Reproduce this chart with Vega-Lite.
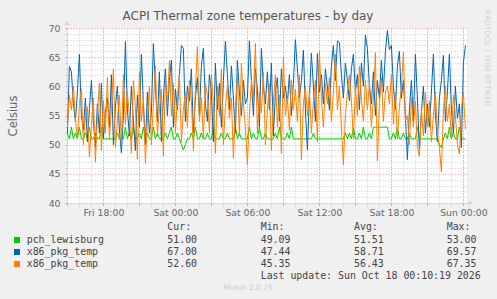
{
  "$schema": "https://vega.github.io/schema/vega-lite/v6.json",
  "width": 400,
  "height": 175,
  "autosize": {"type": "none"},
  "padding": {"left": 67, "top": 28, "right": 30, "bottom": 96},
  "background": "#f0f0f0",
  "config": {"font": "DejaVu Sans", "view": {"fill": "#ffffff", "stroke": null}},
  "title": {
    "text": "ACPI Thermal zone temperatures - by day",
    "anchor": "middle", "frame": "group", "dx": -19, "offset": -13,
    "fontSize": 12, "fontWeight": "normal", "color": "#555555"
  },
  "datasets": {
    "temps": [
      {"t":"2026-10-16T15:00","g":52,"b":52,"o":53},
      {"t":"2026-10-16T15:10","g":51,"b":63.4,"o":58.5},
      {"t":"2026-10-16T15:20","g":53,"b":62.5,"o":56},
      {"t":"2026-10-16T15:30","g":51,"b":57,"o":60},
      {"t":"2026-10-16T15:40","g":52,"b":54,"o":54.5},
      {"t":"2026-10-16T15:50","g":51,"b":59,"o":51},
      {"t":"2026-10-16T16:00","g":53,"b":65.5,"o":57},
      {"t":"2026-10-16T16:10","g":51,"b":55,"o":59.5},
      {"t":"2026-10-16T16:20","g":51,"b":52.5,"o":50},
      {"t":"2026-10-16T16:30","g":52,"b":58,"o":55},
      {"t":"2026-10-16T16:40","g":51,"b":50.5,"o":56.5},
      {"t":"2026-10-16T16:50","g":53,"b":56,"o":47.9},
      {"t":"2026-10-16T17:00","g":51,"b":61,"o":53},
      {"t":"2026-10-16T17:10","g":51,"b":54,"o":58},
      {"t":"2026-10-16T17:20","g":52,"b":49.5,"o":47},
      {"t":"2026-10-16T17:30","g":51,"b":57,"o":55},
      {"t":"2026-10-16T17:40","g":51,"b":52,"o":60.5},
      {"t":"2026-10-16T17:50","g":53,"b":60.5,"o":49},
      {"t":"2026-10-16T18:00","g":51,"b":51,"o":57.5},
      {"t":"2026-10-16T18:10","g":51,"b":55.5,"o":52},
      {"t":"2026-10-16T18:20","g":51,"b":58,"o":61.5},
      {"t":"2026-10-16T18:30","g":51,"b":53,"o":51},
      {"t":"2026-10-16T18:40","g":51,"b":62,"o":56},
      {"t":"2026-10-16T18:50","g":51,"b":50,"o":63},
      {"t":"2026-10-16T19:00","g":51,"b":56.5,"o":49.5},
      {"t":"2026-10-16T19:10","g":52,"b":60,"o":54},
      {"t":"2026-10-16T19:20","g":51,"b":52.5,"o":58.5},
      {"t":"2026-10-16T19:30","g":51,"b":48.6,"o":50},
      {"t":"2026-10-16T19:40","g":51,"b":55,"o":62},
      {"t":"2026-10-16T19:50","g":53,"b":67.7,"o":53.5},
      {"t":"2026-10-16T20:00","g":51,"b":56,"o":59},
      {"t":"2026-10-16T20:10","g":52,"b":51.5,"o":55},
      {"t":"2026-10-16T20:20","g":51,"b":60,"o":48.5},
      {"t":"2026-10-16T20:30","g":53,"b":54,"o":61},
      {"t":"2026-10-16T20:40","g":51,"b":49,"o":56.5},
      {"t":"2026-10-16T20:50","g":51,"b":58.5,"o":47.5},
      {"t":"2026-10-16T21:00","g":52,"b":53,"o":62.5},
      {"t":"2026-10-16T21:10","g":51,"b":65.5,"o":54},
      {"t":"2026-10-16T21:20","g":53,"b":57,"o":58},
      {"t":"2026-10-16T21:30","g":51,"b":50,"o":46.8},
      {"t":"2026-10-16T21:40","g":52,"b":59,"o":54},
      {"t":"2026-10-16T21:50","g":51,"b":52,"o":60},
      {"t":"2026-10-16T22:00","g":51,"b":55.5,"o":50},
      {"t":"2026-10-16T22:10","g":53,"b":67.3,"o":57},
      {"t":"2026-10-16T22:20","g":51,"b":60,"o":63.5},
      {"t":"2026-10-16T22:30","g":52,"b":54,"o":51.5},
      {"t":"2026-10-16T22:40","g":51,"b":62.5,"o":56},
      {"t":"2026-10-16T22:50","g":51,"b":50.5,"o":59.5},
      {"t":"2026-10-16T23:00","g":51,"b":58,"o":48},
      {"t":"2026-10-16T23:10","g":52,"b":63,"o":61},
      {"t":"2026-10-16T23:20","g":51,"b":55,"o":57},
      {"t":"2026-10-16T23:30","g":52,"b":61,"o":64.4},
      {"t":"2026-10-16T23:40","g":53,"b":64.5,"o":55},
      {"t":"2026-10-16T23:50","g":51,"b":53,"o":60.5},
      {"t":"2026-10-17T00:00","g":51,"b":59.5,"o":52},
      {"t":"2026-10-17T00:10","g":52,"b":56,"o":58},
      {"t":"2026-10-17T00:20","g":51,"b":62,"o":62},
      {"t":"2026-10-17T00:30","g":50,"b":67,"o":50.5},
      {"t":"2026-10-17T00:40","g":49.09,"b":66.5,"o":56},
      {"t":"2026-10-17T00:50","g":50,"b":54,"o":59},
      {"t":"2026-10-17T01:00","g":51,"b":60,"o":53},
      {"t":"2026-10-17T01:10","g":51,"b":57.5,"o":61},
      {"t":"2026-10-17T01:20","g":52,"b":63,"o":57.5},
      {"t":"2026-10-17T01:30","g":51,"b":52,"o":49},
      {"t":"2026-10-17T01:40","g":53,"b":58,"o":59.5},
      {"t":"2026-10-17T01:50","g":51,"b":61.5,"o":66.8},
      {"t":"2026-10-17T02:00","g":51,"b":55,"o":54},
      {"t":"2026-10-17T02:10","g":52,"b":63.5,"o":58},
      {"t":"2026-10-17T02:20","g":51,"b":66.5,"o":51},
      {"t":"2026-10-17T02:30","g":51,"b":57,"o":60.5},
      {"t":"2026-10-17T02:40","g":52,"b":54,"o":58.5},
      {"t":"2026-10-17T02:50","g":51,"b":62,"o":52},
      {"t":"2026-10-17T03:00","g":51,"b":59,"o":62},
      {"t":"2026-10-17T03:10","g":53,"b":50.5,"o":57},
      {"t":"2026-10-17T03:20","g":51,"b":64,"o":48.5},
      {"t":"2026-10-17T03:30","g":51,"b":56,"o":60},
      {"t":"2026-10-17T03:40","g":51,"b":60.5,"o":55},
      {"t":"2026-10-17T03:50","g":52,"b":53,"o":63},
      {"t":"2026-10-17T04:00","g":51,"b":61,"o":50},
      {"t":"2026-10-17T04:10","g":51,"b":67.7,"o":56.5},
      {"t":"2026-10-17T04:20","g":52,"b":62,"o":60},
      {"t":"2026-10-17T04:30","g":51,"b":56,"o":54.5},
      {"t":"2026-10-17T04:40","g":51,"b":63.5,"o":58},
      {"t":"2026-10-17T04:50","g":51,"b":58,"o":47.7},
      {"t":"2026-10-17T05:00","g":53,"b":52,"o":56},
      {"t":"2026-10-17T05:10","g":51,"b":64.5,"o":61.5},
      {"t":"2026-10-17T05:20","g":52,"b":59,"o":51.5},
      {"t":"2026-10-17T05:30","g":51,"b":55,"o":64},
      {"t":"2026-10-17T05:40","g":51,"b":61,"o":57},
      {"t":"2026-10-17T05:50","g":51,"b":57,"o":53},
      {"t":"2026-10-17T06:00","g":51,"b":58,"o":46.5},
      {"t":"2026-10-17T06:10","g":53,"b":67.8,"o":55},
      {"t":"2026-10-17T06:20","g":51,"b":61,"o":61},
      {"t":"2026-10-17T06:30","g":52,"b":55,"o":58},
      {"t":"2026-10-17T06:40","g":51,"b":63,"o":67.35},
      {"t":"2026-10-17T06:50","g":51,"b":59.5,"o":52},
      {"t":"2026-10-17T07:00","g":53,"b":53,"o":59},
      {"t":"2026-10-17T07:10","g":51,"b":66.5,"o":55.5},
      {"t":"2026-10-17T07:20","g":51,"b":60,"o":62.5},
      {"t":"2026-10-17T07:30","g":52,"b":57,"o":50},
      {"t":"2026-10-17T07:40","g":51,"b":62.5,"o":56},
      {"t":"2026-10-17T07:50","g":51,"b":56,"o":60.5},
      {"t":"2026-10-17T08:00","g":51,"b":64,"o":49},
      {"t":"2026-10-17T08:10","g":51,"b":51.5,"o":57.5},
      {"t":"2026-10-17T08:20","g":52,"b":59,"o":62},
      {"t":"2026-10-17T08:30","g":51,"b":61.5,"o":53},
      {"t":"2026-10-17T08:40","g":53,"b":54,"o":58.5},
      {"t":"2026-10-17T08:50","g":51,"b":63,"o":48.5},
      {"t":"2026-10-17T09:00","g":51,"b":58,"o":65},
      {"t":"2026-10-17T09:10","g":51,"b":60,"o":55},
      {"t":"2026-10-17T09:20","g":52,"b":57,"o":58},
      {"t":"2026-10-17T09:30","g":51,"b":62,"o":52.5},
      {"t":"2026-10-17T09:40","g":53,"b":55,"o":61},
      {"t":"2026-10-17T09:50","g":51,"b":60.5,"o":56},
      {"t":"2026-10-17T10:00","g":51,"b":68,"o":59.5},
      {"t":"2026-10-17T10:10","g":51,"b":63,"o":54},
      {"t":"2026-10-17T10:20","g":51,"b":58,"o":62},
      {"t":"2026-10-17T10:30","g":51,"b":61,"o":47.4},
      {"t":"2026-10-17T10:40","g":51,"b":66.2,"o":57},
      {"t":"2026-10-17T10:50","g":51,"b":56,"o":60},
      {"t":"2026-10-17T11:00","g":51,"b":49.1,"o":55},
      {"t":"2026-10-17T11:10","g":51,"b":58,"o":59},
      {"t":"2026-10-17T11:20","g":51,"b":65.7,"o":52},
      {"t":"2026-10-17T11:30","g":52,"b":60,"o":57.5},
      {"t":"2026-10-17T11:40","g":51,"b":54,"o":61},
      {"t":"2026-10-17T11:50","g":51,"b":65.6,"o":50.5},
      {"t":"2026-10-17T12:00","g":51,"b":59,"o":66},
      {"t":"2026-10-17T12:10","g":51,"b":62,"o":58},
      {"t":"2026-10-17T12:20","g":51,"b":57,"o":53},
      {"t":"2026-10-17T12:30","g":51,"b":63,"o":60.5},
      {"t":"2026-10-17T12:40","g":51,"b":60,"o":57},
      {"t":"2026-10-17T12:50","g":51,"b":56,"o":61.5},
      {"t":"2026-10-17T13:00","g":51,"b":63.5,"o":54},
      {"t":"2026-10-17T13:10","g":51,"b":67,"o":59},
      {"t":"2026-10-17T13:20","g":51,"b":61,"o":65.5},
      {"t":"2026-10-17T13:30","g":51,"b":67.8,"o":56},
      {"t":"2026-10-17T13:40","g":51,"b":67.5,"o":60},
      {"t":"2026-10-17T13:50","g":51,"b":62,"o":53},
      {"t":"2026-10-17T14:00","g":51,"b":58,"o":46.5},
      {"t":"2026-10-17T14:10","g":52,"b":64,"o":55},
      {"t":"2026-10-17T14:20","g":51,"b":61,"o":59},
      {"t":"2026-10-17T14:30","g":52,"b":57.5,"o":62},
      {"t":"2026-10-17T14:40","g":51,"b":63,"o":57.5},
      {"t":"2026-10-17T14:50","g":53,"b":65.5,"o":51},
      {"t":"2026-10-17T15:00","g":51,"b":59,"o":60},
      {"t":"2026-10-17T15:10","g":51,"b":62,"o":55},
      {"t":"2026-10-17T15:20","g":52,"b":56,"o":63.5},
      {"t":"2026-10-17T15:30","g":51,"b":64,"o":58},
      {"t":"2026-10-17T15:40","g":53,"b":60,"o":54},
      {"t":"2026-10-17T15:50","g":51,"b":68.8,"o":61},
      {"t":"2026-10-17T16:00","g":51,"b":66.5,"o":56},
      {"t":"2026-10-17T16:10","g":52,"b":60,"o":60.5},
      {"t":"2026-10-17T16:20","g":51,"b":57,"o":53},
      {"t":"2026-10-17T16:30","g":53,"b":62.5,"o":58},
      {"t":"2026-10-17T16:40","g":53,"b":55,"o":65.8},
      {"t":"2026-10-17T16:50","g":53,"b":61,"o":47.2},
      {"t":"2026-10-17T17:00","g":53,"b":58,"o":57},
      {"t":"2026-10-17T17:10","g":53,"b":64.5,"o":61.5},
      {"t":"2026-10-17T17:20","g":53,"b":59,"o":54},
      {"t":"2026-10-17T17:30","g":53,"b":66,"o":59},
      {"t":"2026-10-17T17:40","g":53,"b":69.57,"o":60},
      {"t":"2026-10-17T17:50","g":51,"b":66.3,"o":57},
      {"t":"2026-10-17T18:00","g":51,"b":67,"o":62},
      {"t":"2026-10-17T18:10","g":52,"b":60,"o":53.5},
      {"t":"2026-10-17T18:20","g":51,"b":56,"o":59},
      {"t":"2026-10-17T18:30","g":53,"b":63.5,"o":51},
      {"t":"2026-10-17T18:40","g":51,"b":66,"o":56.5},
      {"t":"2026-10-17T18:50","g":51,"b":58,"o":60},
      {"t":"2026-10-17T19:00","g":52,"b":61,"o":65.8},
      {"t":"2026-10-17T19:10","g":51,"b":55,"o":54},
      {"t":"2026-10-17T19:20","g":51,"b":47.44,"o":55},
      {"t":"2026-10-17T19:30","g":52,"b":56,"o":50},
      {"t":"2026-10-17T19:40","g":51,"b":61,"o":58},
      {"t":"2026-10-17T19:50","g":51,"b":54,"o":53},
      {"t":"2026-10-17T20:00","g":51,"b":65.5,"o":57.5},
      {"t":"2026-10-17T20:10","g":53,"b":58,"o":49.5},
      {"t":"2026-10-17T20:20","g":51,"b":49,"o":48},
      {"t":"2026-10-17T20:30","g":51,"b":55.5,"o":56},
      {"t":"2026-10-17T20:40","g":51,"b":60,"o":51.5},
      {"t":"2026-10-17T20:50","g":51,"b":52,"o":59},
      {"t":"2026-10-17T21:00","g":51,"b":57,"o":53},
      {"t":"2026-10-17T21:10","g":51,"b":53,"o":57.5},
      {"t":"2026-10-17T21:20","g":51,"b":59,"o":50.5},
      {"t":"2026-10-17T21:30","g":51,"b":65.5,"o":55},
      {"t":"2026-10-17T21:40","g":51,"b":55,"o":59},
      {"t":"2026-10-17T21:50","g":51,"b":50.5,"o":52},
      {"t":"2026-10-17T22:00","g":50,"b":58,"o":49.5},
      {"t":"2026-10-17T22:10","g":49.5,"b":61,"o":45.35},
      {"t":"2026-10-17T22:20","g":51,"b":65.3,"o":56},
      {"t":"2026-10-17T22:30","g":52,"b":54,"o":60},
      {"t":"2026-10-17T22:40","g":51,"b":59,"o":54},
      {"t":"2026-10-17T22:50","g":53,"b":65.5,"o":57},
      {"t":"2026-10-17T23:00","g":51,"b":56,"o":51},
      {"t":"2026-10-17T23:10","g":52,"b":52,"o":58.5},
      {"t":"2026-10-17T23:20","g":51,"b":60,"o":55},
      {"t":"2026-10-17T23:30","g":51,"b":54.5,"o":50},
      {"t":"2026-10-17T23:40","g":53,"b":57,"o":48.4},
      {"t":"2026-10-17T23:50","g":51,"b":49.5,"o":56},
      {"t":"2026-10-18T00:00","g":51,"b":64,"o":59},
      {"t":"2026-10-18T00:10","g":51,"b":67,"o":52.6}
    ],
    "cells": [
      {"r":1,"c":2,"txt":"Cur:"},
      {"r":1,"c":4,"txt":"Min:"},
      {"r":1,"c":5,"txt":"Avg:"},
      {"r":1,"c":6,"txt":"Max:"},
      {"r":2,"c":1,"txt":"pch_lewisburg"},
      {"r":3,"c":1,"txt":"x86_pkg_temp"},
      {"r":4,"c":1,"txt":"x86_pkg_temp"},
      {"r":5,"c":4,"txt":"Last update: Sun Oct 18 00:10:19 2026"}
    ],
    "stats": [
      {"r":2,"c":2,"v":51.00},{"r":2,"c":4,"v":49.09},{"r":2,"c":5,"v":51.51},{"r":2,"c":6,"v":53.00},
      {"r":3,"c":2,"v":67.00},{"r":3,"c":4,"v":47.44},{"r":3,"c":5,"v":58.71},{"r":3,"c":6,"v":69.57},
      {"r":4,"c":2,"v":52.60},{"r":4,"c":4,"v":45.35},{"r":4,"c":5,"v":56.43},{"r":4,"c":6,"v":67.35}
    ],
    "keys": [
      {"r":2,"c":0,"s":"pch_lewisburg"},
      {"r":3,"c":0,"s":"x86_pkg_temp 1"},
      {"r":4,"c":0,"s":"x86_pkg_temp 2"}
    ]
  },
  "layer": [
    {
      "data": {"name": "temps"},
      "layer": [
        {
          "mark": {"type": "line", "strokeWidth": 1, "color": "#00CC00"},
          "encoding": {
            "x": {
              "field": "t", "type": "temporal",
              "scale": {"domain": [
                {"year": 2026, "month": 10, "date": 16, "hours": 14, "minutes": 58},
                {"year": 2026, "month": 10, "date": 18, "hours": 0, "minutes": 18}
              ]},
              "axis": {
                "orient": "bottom", "title": null, "tickCount": 34,
                "labels": false, "domain": false,
                "ticks": true, "tickSize": 2, "tickColor": "#c8c8c8",
                "grid": true, "gridColor": "#c8c8c8", "gridDash": [1, 2]
              }
            },
            "y": {
              "field": "g", "type": "quantitative",
              "scale": {"domain": [40, 70], "nice": false, "zero": false},
              "axis": {
                "orient": "left", "title": null,
                "values": [41,42,43,44,46,47,48,49,51,52,53,54,56,57,58,59,61,62,63,64,66,67,68,69],
                "labels": false, "domain": false,
                "ticks": true, "tickSize": 2, "tickColor": "#c8c8c8",
                "grid": true, "gridColor": "#c8c8c8", "gridDash": [1, 2]
              }
            }
          }
        },
        {
          "mark": {"type": "line", "strokeWidth": 1, "color": "#0066B3"},
          "encoding": {
            "x": {
              "field": "t", "type": "temporal",
              "axis": {
                "orient": "bottom", "title": null, "tickCount": 12,
                "labels": false, "domain": false,
                "ticks": true, "tickSize": 2, "tickColor": "#e89090",
                "grid": true, "gridColor": "#e89090", "gridDash": [1, 2]
              }
            },
            "y": {
              "field": "b", "type": "quantitative",
              "scale": {"domain": [40, 70], "nice": false, "zero": false},
              "axis": {
                "orient": "left", "title": "Celsius",
                "values": [40, 45, 50, 55, 60, 65, 70],
                "labelFontSize": 9.3, "labelColor": "#666666", "labelPadding": 5,
                "ticks": true, "tickSize": 2, "tickColor": "#e89090",
                "domain": true, "domainColor": "#CFD6F8",
                "grid": true, "gridColor": "#e89090", "gridDash": [1, 2],
                "titlePadding": 30, "titleFontSize": 11.5, "titleFontWeight": "normal", "titleColor": "#666666"
              }
            }
          }
        },
        {
          "mark": {"type": "line", "strokeWidth": 1, "color": "#FF8000"},
          "encoding": {
            "x": {
              "field": "t", "type": "temporal",
              "axis": {
                "orient": "bottom", "title": null, "tickCount": 6, "format": "%a %H:%M",
                "labelFontSize": 9.3, "labelColor": "#666666", "labelPadding": 3,
                "labelFlush": false, "labelOverlap": false,
                "ticks": true, "tickSize": 2, "tickColor": "#e89090",
                "domain": true, "domainColor": "#CFD6F8",
                "grid": false
              }
            },
            "y": {
              "field": "o", "type": "quantitative",
              "scale": {"domain": [40, 70], "nice": false, "zero": false},
              "axis": null
            }
          }
        },
        {
          "data": {"values": [{}]},
          "mark": {"type": "point", "shape": "triangle-up", "filled": true, "size": 30, "color": "#CFD6F8", "opacity": 1, "yOffset": -5},
          "encoding": {
            "x": {"datum": {"year": 2026, "month": 10, "date": 16, "hours": 14, "minutes": 58}, "type": "temporal", "axis": null},
            "y": {"datum": 70, "type": "quantitative", "axis": null}
          }
        },
        {
          "data": {"values": [{}]},
          "mark": {"type": "point", "shape": "triangle-right", "filled": true, "size": 30, "color": "#CFD6F8", "opacity": 1, "xOffset": 4},
          "encoding": {
            "x": {"datum": {"year": 2026, "month": 10, "date": 18, "hours": 0, "minutes": 18}, "type": "temporal", "axis": null},
            "y": {"datum": 40, "type": "quantitative", "axis": null}
          }
        }
      ],
      "resolve": {"axis": {"x": "independent", "y": "independent"}}
    },
    {
      "encoding": {
        "x": {
          "field": "c", "type": "quantitative",
          "scale": {"domain": [0, 1, 2, 3, 4, 5, 6, 7], "range": [-50, -40.3, 100.3, 181, 193.7, 287, 379.7, 420], "nice": false, "zero": false},
          "axis": null
        },
        "y": {
          "field": "r", "type": "quantitative",
          "scale": {"domain": [0, 1, 2, 3, 4, 5, 6], "range": [30, 199.3, 212, 224, 236, 247.7, 260.3], "nice": false, "zero": false},
          "axis": null
        }
      },
      "layer": [
        {
          "data": {"name": "keys"},
          "mark": {"type": "point", "shape": "square", "filled": true, "size": 36, "opacity": 1},
          "encoding": {
            "color": {
              "field": "s", "type": "nominal",
              "scale": {"domain": ["pch_lewisburg", "x86_pkg_temp 1", "x86_pkg_temp 2"], "range": ["#00CC00", "#0066B3", "#FF8000"]},
              "legend": null
            }
          }
        },
        {
          "data": {"name": "cells"},
          "mark": {"type": "text", "align": "left", "baseline": "middle", "font": "DejaVu Sans Mono", "fontSize": 9.9, "color": "#444444"},
          "encoding": {"text": {"field": "txt"}}
        },
        {
          "data": {"name": "stats"},
          "mark": {"type": "text", "align": "left", "baseline": "middle", "font": "DejaVu Sans Mono", "fontSize": 9.9, "color": "#444444"},
          "encoding": {"text": {"field": "v", "type": "quantitative", "format": ".2f"}}
        },
        {
          "data": {"values": [{"r": 6, "c": 3, "txt": "Munin 2.0.75"}]},
          "mark": {"type": "text", "align": "center", "baseline": "middle", "fontSize": 7.6, "color": "#cccccc"},
          "encoding": {"text": {"field": "txt"}}
        },
        {
          "data": {"values": [{"r": 0, "c": 7, "txt": "RRDTOOL / TOBI OETIKER"}]},
          "mark": {"type": "text", "align": "center", "baseline": "middle", "angle": 90, "fontSize": 7.5, "color": "#d0d0d0"},
          "encoding": {"text": {"field": "txt"}}
        }
      ]
    }
  ],
  "resolve": {"scale": {"x": "independent", "y": "independent"}}
}
